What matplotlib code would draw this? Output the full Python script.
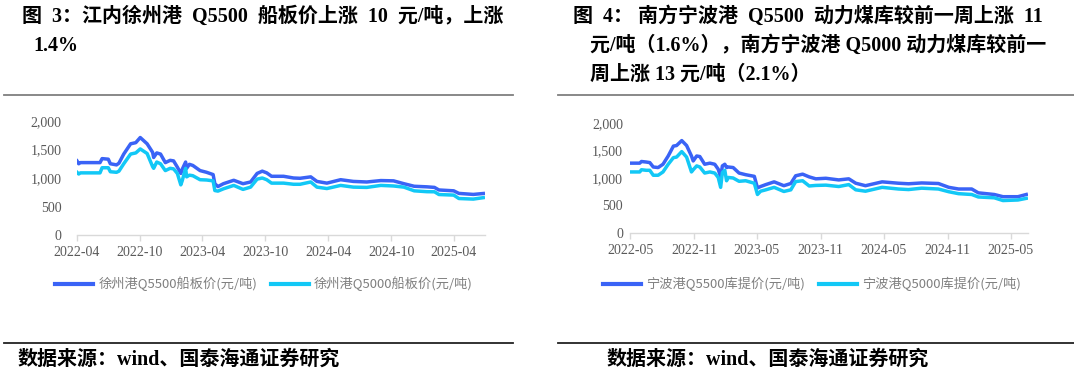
import matplotlib
matplotlib.use("Agg")
import matplotlib.pyplot as plt
import matplotlib.dates as mdates
from matplotlib.lines import Line2D
import pandas as pd

# ---------------- data: left chart (Xuzhou port) ----------------
xz_dates = ["2022-04-01", "2022-04-06", "2022-04-11", "2022-06-07", "2022-06-13", "2022-07-01",
            "2022-07-07", "2022-07-25", "2022-08-01", "2022-08-15", "2022-09-04", "2022-09-19",
            "2022-10-02", "2022-10-22", "2022-11-07", "2022-11-10", "2022-11-19", "2022-11-30",
            "2022-12-14", "2022-12-28", "2023-01-07", "2023-01-18", "2023-01-28", "2023-02-01",
            "2023-02-11", "2023-02-14", "2023-02-22", "2023-03-04", "2023-03-25", "2023-04-13",
            "2023-05-02", "2023-05-07", "2023-05-16", "2023-06-01", "2023-07-01", "2023-07-28",
            "2023-08-19", "2023-09-07", "2023-09-22", "2023-10-05", "2023-10-19", "2023-11-23",
            "2023-12-22", "2024-01-10", "2024-02-10", "2024-02-28", "2024-03-28", "2024-05-07",
            "2024-06-13", "2024-07-22", "2024-09-01", "2024-10-08", "2024-11-07", "2024-12-07",
            "2025-01-13", "2025-02-04", "2025-02-17", "2025-04-01", "2025-04-16", "2025-05-28",
            "2025-06-26"]
xz_q5500 = [1300, 1250, 1270, 1270, 1340, 1330, 1250, 1230, 1260, 1420, 1600, 1620,
            1710, 1600, 1450, 1360, 1440, 1420, 1270, 1310, 1300, 1190, 1080, 1150,
            1280, 1170, 1240, 1220, 1130, 1100, 1060, 900, 850, 900, 960, 900,
            930, 1080, 1120, 1090, 1030, 1030, 1000, 995, 1020, 940, 910, 970,
            940, 930, 955, 950, 900, 855, 845, 835, 790, 775, 730, 712, 728]
xz_q5000 = [1100, 1070, 1090, 1090, 1180, 1180, 1110, 1100, 1120, 1250, 1420, 1440,
            1510, 1430, 1200, 1170, 1280, 1250, 1130, 1170, 1160, 1080, 880, 950,
            1170, 1020, 1050, 1040, 970, 965, 950, 780, 770, 810, 870, 800,
            840, 980, 1000, 970, 910, 910, 890, 890, 930, 840, 815, 870,
            840, 835, 870, 860, 840, 775, 760, 758, 710, 700, 640, 630, 655]

# ---------------- data: right chart (Ningbo port) ----------------
nb_dates = ["2022-05-01", "2022-05-29", "2022-06-03", "2022-06-17", "2022-06-27", "2022-07-07",
            "2022-07-21", "2022-08-04", "2022-08-19", "2022-09-03", "2022-09-12", "2022-09-27",
            "2022-10-11", "2022-10-25", "2022-10-30", "2022-11-09", "2022-11-18", "2022-12-02",
            "2022-12-17", "2022-12-31", "2023-01-10", "2023-01-17", "2023-01-22", "2023-01-29",
            "2023-02-03", "2023-02-08", "2023-02-22", "2023-03-11", "2023-03-30", "2023-04-24",
            "2023-05-03", "2023-05-12", "2023-05-27", "2023-06-20", "2023-07-18", "2023-08-07",
            "2023-08-21", "2023-09-10", "2023-09-29", "2023-10-18", "2023-11-16", "2023-12-23",
            "2024-01-21", "2024-02-10", "2024-03-09", "2024-04-26", "2024-06-12", "2024-07-11",
            "2024-08-18", "2024-10-05", "2024-11-04", "2024-12-02", "2025-01-09", "2025-01-28",
            "2025-03-15", "2025-04-09", "2025-05-22", "2025-06-15"]
nb_q5500 = [1270, 1270, 1300, 1290, 1280, 1200, 1190, 1250, 1400, 1580, 1590, 1680,
            1590, 1400, 1310, 1400, 1390, 1250, 1270, 1250, 1160, 1020, 1220, 1250,
            1190, 1200, 1190, 1090, 1060, 1030, 820, 845, 880, 930, 860, 900,
            1040, 1070, 1020, 985, 995, 965, 985, 905, 860, 930, 905, 895,
            910, 900, 830, 800, 800, 730, 700, 660, 660, 700]
nb_q5000 = [1110, 1110, 1150, 1140, 1140, 1050, 1050, 1110, 1250, 1370, 1380, 1480,
            1380, 1110, 1150, 1220, 1200, 1090, 1110, 1090, 1010, 830, 1100, 1140,
            950, 1010, 1000, 940, 950, 905, 700, 760, 785, 830, 755, 785,
            935, 950, 855, 865, 870, 845, 880, 785, 760, 830, 800, 790,
            815, 800, 750, 715, 700, 655, 640, 590, 600, 630]

left_title = ["图  3：江内徐州港  Q5500  船板价上涨  10  元/吨，上涨", "1.4%"]
right_title = ["图  4： 南方宁波港  Q5500  动力煤库较前一周上涨  11",
               "元/吨（1.6%），南方宁波港 Q5000 动力煤库较前一",
               "周上涨 13 元/吨（2.1%）"]
left_labels = ["徐州港Q5500船板价(元/吨)", "徐州港Q5000船板价(元/吨)"]
right_labels = ["宁波港Q5500库提价(元/吨)", "宁波港Q5000库提价(元/吨)"]
source_text = "数据来源：wind、国泰海通证券研究"
yticks = [0, 500, 1000, 1500, 2000]

C_DARK = "#3A63F6"
C_LIGHT = "#12C8F6"
TICK_C = "#595959"
SERIF = ["Liberation Serif", "Noto Sans CJK SC"]
CJK = ["Noto Sans CJK SC", "DejaVu Sans"]
TITLE_FS = 14.4

W, H = 1074, 376
fig = plt.figure(figsize=(W / 100, H / 100), dpi=100)


def fx(px):
    return px / W


def fy(py):
    return 1 - py / H


def make_axes(rect, dates, s1, s2, months, xmin, xmax, ypad):
    ax = fig.add_axes(rect)
    d = pd.to_datetime(dates)
    ax.plot(d, s1, color=C_DARK, lw=2.5, solid_joinstyle="round")
    ax.plot(d, s2, color=C_LIGHT, lw=2.5, solid_joinstyle="round")
    ax.set_ylim(0, 2000)
    ax.set_yticks(yticks)
    ax.set_yticklabels([f"{v:,}" for v in yticks])
    ax.set_xlim(pd.Timestamp(xmin), pd.Timestamp(xmax))
    ax.xaxis.set_major_locator(mdates.MonthLocator(bymonth=months, bymonthday=1))
    ax.xaxis.set_major_formatter(mdates.DateFormatter("%Y-%m"))
    for s in ["top", "right", "left"]:
        ax.spines[s].set_visible(False)
    ax.spines["bottom"].set_color("#d9d9d9")
    ax.spines["bottom"].set_linewidth(1.0)
    ax.tick_params(axis="x", colors="#d9d9d9", length=4, width=1, pad=4)
    ax.tick_params(axis="y", length=0, pad=ypad)
    for lab in ax.get_xticklabels() + ax.get_yticklabels():
        lab.set_family(SERIF)
        lab.set_fontsize(10)
        lab.set_color(TICK_C)
    return ax


axL = make_axes([fx(77), fy(235), fx(485 - 77), (235 - 121) / H],
                xz_dates, xz_q5500, xz_q5000, (4, 10), "2022-04-01", "2025-07-01", 11)
axR = make_axes([fx(630), fy(233), fx(1028 - 630), (233 - 123) / H],
                nb_dates, nb_q5500, nb_q5000, (5, 11), "2022-05-01", "2025-06-20", 5)

# legends
for labels, cx in [(left_labels, 264), (right_labels, 812)]:
    handles = [Line2D([], [], color=C_DARK, lw=3), Line2D([], [], color=C_LIGHT, lw=3)]
    fig.legend(handles, labels, loc="center", bbox_to_anchor=(fx(cx), fy(284)), ncol=2,
               frameon=False, handlelength=2.9, handletextpad=0.4, columnspacing=1.0,
               prop={"family": CJK, "size": 9.5}, labelcolor="#808080")

# titles
for i, t in enumerate(left_title):
    fig.text(fx(22 if i == 0 else 33), fy(17 + 29 * i), t, family=SERIF, weight="bold",
             fontsize=TITLE_FS, ha="left", va="center", color="black")
for i, t in enumerate(right_title):
    fig.text(fx(573 if i == 0 else 590), fy(17 + 29 * i), t, family=SERIF, weight="bold",
             fontsize=TITLE_FS, ha="left", va="center", color="black")

# separator lines
for (x0, x1, y, c) in [(4, 513, 95, "#7f7f7f"), (558, 1074, 95, "#7f7f7f"),
                       (4, 513, 343, "#222222"), (558, 1074, 343, "#222222")]:
    fig.add_artist(Line2D([fx(x0), fx(x1)], [fy(y), fy(y)], color=c, lw=1.3,
                          transform=fig.transFigure))

# source
fig.text(fx(18), fy(360), source_text, family=SERIF, weight="bold", fontsize=TITLE_FS,
         ha="left", va="center", color="black")
fig.text(fx(607), fy(360), source_text, family=SERIF, weight="bold", fontsize=TITLE_FS,
         ha="left", va="center", color="black")

fig.savefig("out.png", dpi=100)
